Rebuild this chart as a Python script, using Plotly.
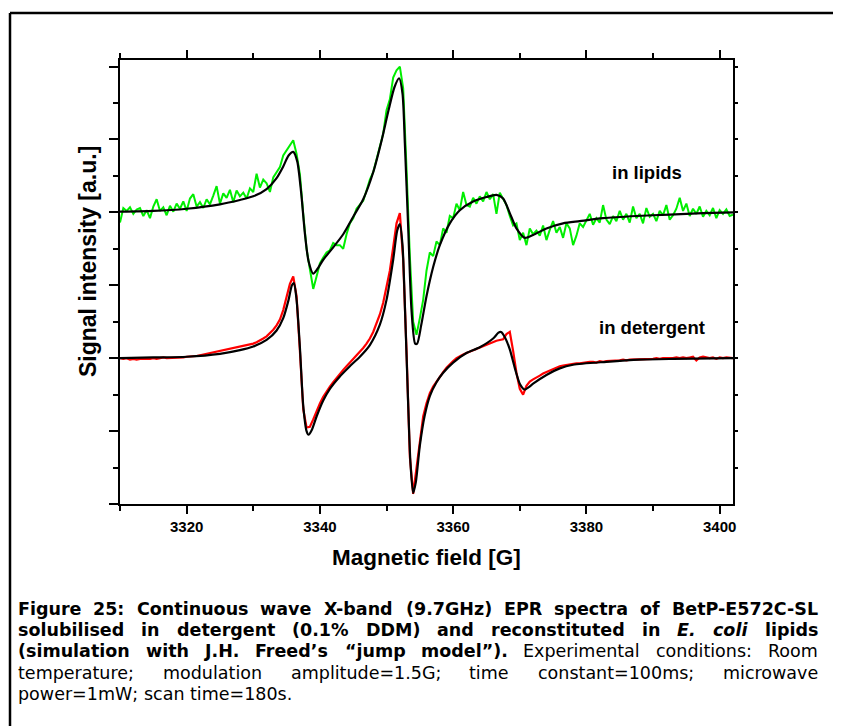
import plotly.graph_objects as go

# ---------------- data ----------------
# experimental sampling grid (G)
field_exp = [3310 + 0.5 * i for i in range(185)]

lipids_exp = [
    1.86, 2.06, 2.02, 2.07, 1.98, 2.04, 2.06, 1.95, 2.03, 1.92,
    2.08, 2.18, 2.02, 2.07, 1.96, 2.09, 2.01, 2.12, 2.05, 2.15,
    2.02, 2.19, 2.25, 2.08, 2.14, 2.06, 2.18, 2.11, 2.23, 2.36,
    2.12, 2.26, 2.20, 2.31, 2.14, 2.30, 2.22, 2.27, 2.19, 2.33,
    2.28, 2.53, 2.34, 2.45, 2.40, 2.28, 2.48, 2.56, 2.62, 2.78,
    2.85, 2.92, 2.99, 2.80, 2.52, 1.98, 1.50, 1.22, 0.95, 1.12,
    1.30, 1.38, 1.45, 1.48, 1.58, 1.55, 1.55, 1.50, 1.70, 1.85,
    1.92, 2.05, 2.10, 2.16, 2.30, 2.45, 2.55, 2.72, 2.92, 3.08,
    3.40, 3.55, 3.85, 3.95, 4.00, 3.70, 2.60, 1.40, 0.50, 0.32,
    0.55, 0.80, 1.20, 1.45, 1.40, 1.60, 1.55, 1.78, 1.72, 1.95,
    1.92, 2.12, 2.03, 2.28, 2.10, 2.08, 2.20, 2.12, 2.22, 2.15,
    2.28, 2.18, 2.25, 1.98, 2.27, 2.18, 2.10, 1.95, 1.82, 1.85,
    1.62, 1.72, 1.55, 1.78, 1.70, 1.75, 1.68, 1.82, 1.62, 1.76,
    1.88, 1.72, 1.80, 1.65, 1.85, 1.78, 1.55, 1.68, 1.85, 1.80,
    1.88, 1.98, 1.83, 1.92, 1.86, 2.10, 1.90, 1.84, 1.95, 1.88,
    2.02, 1.90, 1.98, 1.86, 2.08, 1.92, 1.98, 1.85, 2.06, 1.94,
    1.98, 1.88, 2.02, 1.96, 2.10, 1.90, 1.96, 2.05, 2.20, 2.02,
    2.12, 1.95, 2.05, 1.98, 2.08, 1.94, 2.02, 1.96, 2.06, 1.92,
    2.03, 1.98, 2.04, 1.95, 1.97,
]

detergent_exp = [
    0.00, -0.01, 0.00, -0.02, -0.01, -0.02, -0.01, -0.01, -0.02, -0.01,
    0.00, -0.01, 0.00, 0.01, 0.00, 0.00, 0.01, 0.01, 0.01, 0.01,
    0.02, 0.02, 0.03, 0.03, 0.04, 0.05, 0.06, 0.07, 0.08, 0.09,
    0.09, 0.10, 0.11, 0.12, 0.13, 0.14, 0.15, 0.16, 0.17, 0.18,
    0.20, 0.22, 0.24, 0.27, 0.30, 0.34, 0.39, 0.45, 0.53, 0.66,
    0.83, 1.02, 1.12, 0.85, 0.10, -0.70, -0.95, -0.94, -0.84, -0.72,
    -0.62, -0.53, -0.45, -0.39, -0.33, -0.27, -0.21, -0.16, -0.11, -0.06,
    -0.02, 0.03, 0.08, 0.14, 0.20, 0.27, 0.36, 0.47, 0.60, 0.76,
    0.96, 1.20, 1.52, 1.85, 1.99, 1.35, 0.10, -1.35, -1.86, -1.50,
    -1.10, -0.80, -0.62, -0.48, -0.39, -0.32, -0.25, -0.19, -0.13, -0.08,
    -0.04, 0.00, 0.03, 0.05, 0.07, 0.09, 0.11, 0.12, 0.14, 0.16,
    0.18, 0.20, 0.22, 0.24, 0.25, 0.26, 0.33, 0.36, 0.10, -0.20,
    -0.42, -0.50, -0.38, -0.32, -0.29, -0.27, -0.24, -0.21, -0.19, -0.16,
    -0.14, -0.12, -0.11, -0.10, -0.09, -0.08, -0.08, -0.07, -0.07, -0.06,
    -0.06, -0.05, -0.05, -0.06, -0.04, -0.05, -0.04, -0.04, -0.03, -0.04,
    -0.03, -0.02, -0.03, -0.02, -0.02, -0.02, -0.01, -0.02, -0.01, -0.01,
    -0.01, 0.00, -0.01, 0.00, 0.00, -0.01, 0.00, 0.01, 0.00, 0.01,
    0.00, 0.01, 0.02, -0.03, 0.01, 0.02, 0.01, 0.00, 0.01, -0.01,
    0.01, 0.00, 0.01, 0.00, 0.00,
]

# simulations (jump model)
field_sim_lip = [3310, 3315, 3320, 3325, 3328, 3330, 3332, 3333.5, 3334.5, 3335.3,
                 3336.0, 3336.6, 3337.2, 3337.75, 3338.3, 3339.0, 3339.6, 3340.5, 3342, 3343.5,
                 3345, 3346.5, 3348, 3349.3, 3350.3, 3351.2, 3351.9, 3352.4, 3352.75, 3353.25,
                 3353.75, 3354.3, 3354.6, 3355.2, 3356.0, 3357.0, 3358.0, 3359.5, 3361, 3363,
                 3365, 3366.5, 3367.5, 3368.5, 3369.5, 3370.75, 3372, 3374, 3376.5, 3379,
                 3382.5, 3387.5, 3392.5, 3397.5, 3402]
lipids_sim = [2.01, 2.02, 2.05, 2.11, 2.17, 2.22, 2.32, 2.47, 2.63, 2.78,
              2.83, 2.70, 2.26, 1.71, 1.33, 1.16, 1.22, 1.35, 1.52, 1.70,
              1.94, 2.18, 2.55, 3.00, 3.40, 3.72, 3.84, 3.63, 2.95, 1.80,
              0.66, 0.20, 0.20, 0.45, 0.85, 1.25, 1.55, 1.85, 2.03, 2.15,
              2.21, 2.24, 2.19, 1.99, 1.78, 1.65, 1.69, 1.78, 1.85, 1.88,
              1.92, 1.95, 1.97, 1.99, 2.00]

field_sim_det = [3310, 3315, 3320, 3325, 3328, 3330, 3332, 3333.5, 3334.5, 3335.3,
                 3335.8, 3336.1, 3336.5, 3337.0, 3337.5, 3338.0, 3338.3, 3338.8, 3339.5, 3340.5,
                 3341.5, 3343, 3344.5, 3346, 3347.5, 3349, 3350, 3351, 3351.6, 3352.0,
                 3352.4, 3352.8, 3353.2, 3353.6, 3354.0, 3354.4, 3355.0, 3355.7, 3356.5, 3357.5,
                 3358.5, 3360, 3362, 3364, 3366, 3366.8, 3367.2, 3367.8, 3368.5, 3369.3,
                 3370.0, 3370.7, 3371.3, 3372, 3374, 3376, 3378, 3383, 3388, 3393, 3402]
detergent_sim = [0.00, 0.01, 0.02, 0.06, 0.11, 0.16, 0.25, 0.38, 0.55, 0.80,
                 1.00, 1.03, 0.80, 0.15, -0.65, -1.00, -1.05, -0.98, -0.80, -0.58,
                 -0.42, -0.25, -0.11, 0.02, 0.18, 0.46, 0.80, 1.35, 1.75, 1.84,
                 1.55, 0.60, -0.50, -1.45, -1.85, -1.70, -1.20, -0.80, -0.52, -0.33,
                 -0.20, -0.06, 0.07, 0.15, 0.27, 0.35, 0.36, 0.28, 0.12, -0.15,
                 -0.35, -0.43, -0.40, -0.35, -0.23, -0.14, -0.09, -0.05, -0.02, -0.01, 0.00]

x_ticks = [3320, 3340, 3360, 3380, 3400]
x_tick_labels = ["3320", "3340", "3360", "3380", "3400"]

caption_lines = [
    [("Figure 25: Continuous wave X-band (9.7GHz) EPR spectra of BetP-E572C-SL", "b")],
    [("solubilised in detergent (0.1% DDM) and reconstituted in", "b"),
     ("E. coli", "bi"), ("lipids", "b")],
    [("(simulation with J.H. Freed\u2019s \u201cjump model\u201d).", "b"),
     ("Experimental conditions: Room", "r")],
    [("temperature; modulation amplitude=1.5G; time constant=100ms; microwave", "r")],
    [("power=1mW; scan time=180s.", "r")],
]

# ---------------- layout helpers ----------------
OFF = 8                      # page body margin of the browser
W, H = 841 - OFF, 726 - OFF
L, R, T, B = 120, 733, 60, 504   # plot area in page pixels
FONT = "Liberation Sans, Arial, sans-serif"
CAP_FONT = "DejaVu Sans, Liberation Sans, sans-serif"


def px(x):
    return (x - L) / (R - L)


def py(y):
    return (B - y) / (B - T)


# DejaVu Sans advance widths (units of 1/2048 em)
REG_W = {' ': 651, '(': 799, ')': 799, '%': 1946, ',': 651, '-': 739, '.': 651, ':': 690,
         ';': 690, '=': 1716, '\u2019': 651, '\u201c': 1067, '\u201d': 1067,
         'E': 1294, 'G': 1587, 'R': 1423, 'W': 2025,
         'a': 1255, 'c': 1126, 'd': 1300, 'e': 1260, 'i': 569, 'l': 569, 'm': 1995,
         'n': 1298, 'o': 1253, 'p': 1300, 'r': 842, 's': 1067, 't': 803, 'u': 1298,
         'v': 1212, 'w': 1675, 'x': 1212, 'y': 1212}
BOLD_W = {' ': 713, '(': 934, ')': 934, '%': 2052, ',': 779, '-': 852, '.': 779, ':': 819,
          ';': 819, '=': 1716, '\u2019': 779, '\u201c': 1300, '\u201d': 1300,
          'B': 1554, 'C': 1503, 'D': 1700, 'E': 1396, 'F': 1396, 'G': 1681, 'H': 1714,
          'J': 760, 'L': 1306, 'M': 2034, 'P': 1507, 'R': 1579, 'S': 1468, 'X': 1579,
          'a': 1382, 'b': 1466, 'c': 1214, 'd': 1466, 'e': 1389, 'f': 891, 'g': 1466,
          'h': 1458, 'i': 702, 'j': 702, 'l': 702, 'm': 2134, 'n': 1458, 'o': 1407,
          'p': 1466, 'r': 1010, 's': 1219, 't': 979, 'u': 1458, 'v': 1335, 'w': 1892,
          'z': 1219}


def word_width(word, style, size):
    table = REG_W if style == "r" else BOLD_W
    return sum(table.get(ch, 1425 if style != "r" else 1303) for ch in word) * size / 2048.0


def styled(word, style):
    if style == "b":
        return "<b>" + word + "</b>"
    if style == "bi":
        return "<b><i>" + word + "</i></b>"
    return word


# ---------------- figure ----------------
fig = go.Figure()
fig.add_trace(go.Scatter(x=field_exp, y=lipids_exp, mode="lines",
                         line=dict(color="#00ee00", width=2), showlegend=False))
fig.add_trace(go.Scatter(x=field_exp, y=detergent_exp, mode="lines",
                         line=dict(color="#ff0000", width=2.2), showlegend=False))
fig.add_trace(go.Scatter(x=field_sim_lip, y=lipids_sim, mode="lines",
                         line=dict(color="black", width=2.2, shape="spline", smoothing=0.7),
                         showlegend=False))
fig.add_trace(go.Scatter(x=field_sim_det, y=detergent_sim, mode="lines",
                         line=dict(color="black", width=2.2, shape="spline", smoothing=0.7),
                         showlegend=False))
# invisible trace to activate the right-hand axis
fig.add_trace(go.Scatter(x=[3310], y=[0], yaxis="y2", mode="markers",
                         marker=dict(opacity=0), showlegend=False, hoverinfo="skip"))

fig.update_layout(
    width=W, height=H,
    margin=dict(l=L - OFF, r=841 - R, t=T - OFF, b=726 - B, pad=0),
    paper_bgcolor="white", plot_bgcolor="white",
    font=dict(family=FONT, color="black"),
    xaxis=dict(range=[3310, 3402], tickvals=x_ticks, ticktext=x_tick_labels,
               ticks="outside", ticklen=8, tickwidth=2, tickcolor="black",
               showline=True, linecolor="black", linewidth=2, mirror="ticks",
               showgrid=False, zeroline=False,
               tickfont=dict(size=15, family=FONT, weight="bold"),
               minor=dict(dtick=10, tick0=3310, ticks="outside", ticklen=5,
                          tickwidth=2, tickcolor="black", showgrid=False)),
    yaxis=dict(range=[-2, 4.09], tickvals=[-2, -1, 0, 1, 2, 3, 4],
               showticklabels=False,
               ticks="outside", ticklen=9, tickwidth=2, tickcolor="black",
               showline=True, linecolor="black", linewidth=2,
               showgrid=False, zeroline=False,
               minor=dict(dtick=0.5, tick0=0, ticks="outside", ticklen=5,
                          tickwidth=2, tickcolor="black", showgrid=False)),
    yaxis2=dict(range=[-2, 4.09], overlaying="y", side="right",
                tickvals=[-1.5, -1, -0.5, 0, 0.5, 1, 1.5, 2, 2.5, 3, 3.5, 4],
                showticklabels=False, ticks="outside", ticklen=3, tickwidth=2,
                tickcolor="black", showline=True, linecolor="black", linewidth=2,
                showgrid=False, zeroline=False),
)

ann = []
ann.append(dict(x=px(647), y=py(172), xref="paper", yref="paper", text="<b>in lipids</b>",
                xanchor="center", yanchor="middle",
                showarrow=False, font=dict(size=18.5, family=FONT)))
ann.append(dict(x=px(652), y=py(327), xref="paper", yref="paper", text="<b>in detergent</b>",
                xanchor="center", yanchor="middle",
                showarrow=False, font=dict(size=18.5, family=FONT)))
ann.append(dict(x=px(88), y=py(262), xref="paper", yref="paper",
                text="<b>Signal intensity [a.u.]</b>", textangle=-90,
                xanchor="center", yanchor="middle",
                showarrow=False, font=dict(size=23, family=FONT)))
ann.append(dict(x=px(426), y=py(557), xref="paper", yref="paper",
                text="<b>Magnetic field [G]</b>", xanchor="center", yanchor="middle",
                showarrow=False, font=dict(size=22.5, family=FONT)))

# justified caption, placed word by word
CAP_SIZE = 17.5
CAP_LEFT, CAP_RIGHT = 18, 818
CAP_Y = [609, 630, 651, 673, 694]
for i, segs in enumerate(caption_lines):
    words = []
    for text, style in segs:
        for w_ in text.split(" "):
            words.append((w_, style))
    widths = [word_width(w_, s, CAP_SIZE) for w_, s in words]
    justify = (i != len(caption_lines) - 1) and len(words) > 1
    if justify:
        gap = (CAP_RIGHT - CAP_LEFT - sum(widths)) / (len(words) - 1)
    else:
        gap = BOLD_W[' '] * CAP_SIZE / 2048.0 if words[0][1] != "r" else REG_W[' '] * CAP_SIZE / 2048.0
    xcur = CAP_LEFT
    for k, ((w_, s), wd) in enumerate(zip(words, widths)):
        if justify and k == len(words) - 1:
            xpos, anchor = CAP_RIGHT, "right"
        else:
            xpos, anchor = xcur, "left"
        ann.append(dict(x=px(xpos), y=py(CAP_Y[i]), xref="paper", yref="paper",
                        text=styled(w_, s), xanchor=anchor, yanchor="middle",
                        showarrow=False, borderpad=0, borderwidth=0,
                        font=dict(size=CAP_SIZE, family=CAP_FONT)))
        xcur += wd + gap
fig.update_layout(annotations=ann)

# outer frame of the figure box
fig.add_shape(type="line", xref="paper", yref="paper", x0=px(10), x1=px(850),
              y0=py(13), y1=py(13), line=dict(color="black", width=2.5))
fig.add_shape(type="line", xref="paper", yref="paper", x0=px(10), x1=px(10),
              y0=py(13), y1=py(740), line=dict(color="black", width=2.5))

fig.write_html("out.html")
